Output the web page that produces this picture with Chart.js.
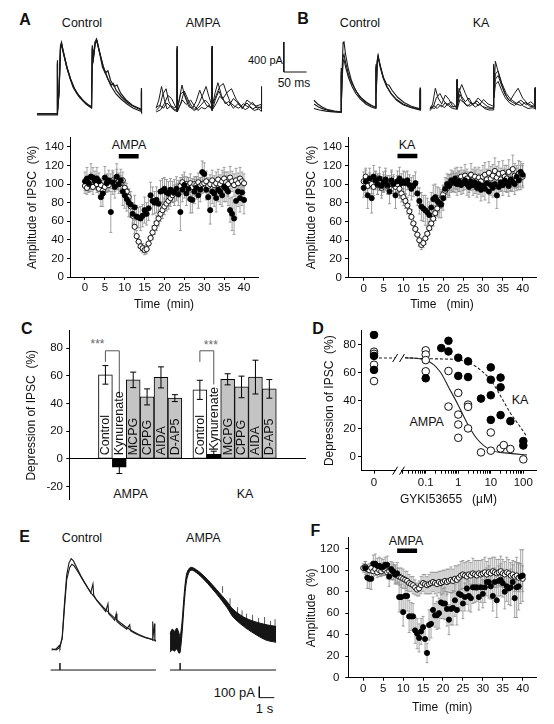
<!DOCTYPE html>
<html>
<head>
<meta charset="utf-8">
<script src="https://cdn.jsdelivr.net/npm/chart.js@4.4.1/dist/chart.umd.min.js"></script>
<style>
html, body { margin: 0; padding: 0; background: #fff; }
#fig { position: relative; width: 554px; height: 724px; overflow: hidden; font-family: "Liberation Sans", Arial, sans-serif; color: #111; }
#fig canvas { position: absolute; }
.t { position: absolute; transform: translate(-50%, -50%); white-space: nowrap; font-size: 12px; line-height: 1; }
.p { font-weight: bold; font-size: 16px; }
.r { transform: translate(-100%, -50%); }
.l { transform: translate(0, -50%); }
</style>
</head>
<body>
<div id="fig">
  <div class="t p" style="left:25px;top:20px">A</div>
  <div class="t" style="left:82px;top:22.5px;font-size:12.5px">Control</div>
  <div class="t" style="left:203px;top:22.5px;font-size:12.5px">AMPA</div>
  <div class="t l" style="left:248px;top:60px;font-size:11px">400 pA</div>
  <div class="t" style="left:294px;top:82.5px">50 ms</div>
  <div class="t p" style="left:303px;top:18.5px">B</div>
  <div class="t" style="left:360px;top:22.5px;font-size:12.5px">Control</div>
  <div class="t" style="left:481px;top:22.5px;font-size:12.5px">KA</div>
  <div class="t" style="left:129px;top:144.5px;font-size:12.5px">AMPA</div>
  <div class="t" style="left:407px;top:144.5px;font-size:12.5px">KA</div>
  <div class="t p" style="left:26.7px;top:328.7px">C</div>
  <div class="t" style="left:97.5px;top:344px;color:#666">***</div>
  <div class="t" style="left:210.8px;top:344.5px;color:#666">***</div>
  <div class="t" style="left:130.5px;top:494px;font-size:12.5px">AMPA</div>
  <div class="t" style="left:245px;top:494px;font-size:12.5px">KA</div>
  <div class="t p" style="left:318px;top:328.5px">D</div>
  <div class="t" style="left:426.7px;top:421.7px;font-size:12.5px">AMPA</div>
  <div class="t" style="left:520px;top:400px;font-size:12.5px">KA</div>
  <div class="t p" style="left:24.5px;top:536.7px">E</div>
  <div class="t" style="left:82px;top:538px;font-size:12.5px">Control</div>
  <div class="t" style="left:203.3px;top:538px;font-size:12.5px">AMPA</div>
  <div class="t r" style="left:255px;top:691.7px;font-size:13px">100 pA</div>
  <div class="t" style="left:264.5px;top:707.5px;font-size:13px">1 s</div>
  <div class="t p" style="left:315.3px;top:530.7px">F</div>
  <div class="t" style="left:406px;top:541px;font-size:12.5px">AMPA</div>
</div>
<script>
// ---- time course data (A, B, F) ----
const minutes = [0,0.5,1,1.5,2,2.5,3,3.5,4,4.5,5,5.5,6,6.5,7,7.5,8,8.5,9,9.5,
  10,10.5,11,11.5,12,12.5,13,13.5,14,14.5,15,15.5,16,16.5,17,17.5,18,18.5,19,19.5,
  20,20.5,21,21.5,22,22.5,23,23.5,24,24.5,25,25.5,26,26.5,27,27.5,28,28.5,29,29.5,
  30,30.5,31,31.5,32,32.5,33,33.5,34,34.5,35,35.5,36,36.5,37,37.5,38,38.5,39,39.5,40];
const timeTicks = [0, 5, 10, 15, 20, 25, 30, 35, 40];
const ipscTicks = [0, 20, 40, 60, 80, 100, 120, 140];
const ampTicks = [0, 20, 40, 60, 80, 100, 120];
const drugWindow = [8.5, 13.5];

const ampaOpen = [98,96,100,102,97,103,100,95,99,93,
  97,101,99,103,104,100,106,103,101,104,
  96,92,86,76,66,54,44,38,33,31,
  29,30,36,42,48,53,58,63,68,72,
  76,79,82,85,88,90,92,95,98,102,
  99,100,98,101,97,100,99,102,98,100,
  101,103,98,100,104,99,101,105,100,103,
  106,102,100,107,103,99,104,101,106,103,
  101];
const ampaOpenErr = [8,7,9,10,8,7,9,8,7,8,
  8,9,7,8,9,8,10,9,8,9,
  8,9,8,7,8,7,6,6,5,5,
  5,5,6,6,7,7,8,8,8,9,
  9,8,9,9,8,9,8,9,9,8,
  9,8,9,10,9,8,9,10,9,10,
  10,11,9,10,11,10,12,11,10,12,
  12,11,13,12,11,12,13,11,12,10,
  10];
const ampaFilled = [103,106,101,108,107,104,106,103,86,90,
  107,101,104,70,102,97,108,100,104,92,
  88,84,80,78,68,75,65,64,63,66,
  72,68,74,88,82,80,83,79,92,93,
  95,91,90,94,92,91,95,89,70,94,
  99,90,95,84,83,92,96,88,94,113,
  111,94,86,72,92,90,85,94,92,88,
  97,95,92,72,68,63,82,92,85,91,
  83];
const ampaFilledErr = [10,12,9,14,11,10,12,9,10,14,
  12,10,11,22,13,12,14,10,12,15,
  14,13,15,14,12,13,12,11,13,12,
  14,12,13,14,15,12,14,13,12,13,
  12,14,13,12,11,14,13,12,20,13,
  14,13,12,15,14,13,12,14,13,12,
  12,11,14,15,13,14,15,13,14,12,
  16,14,15,13,18,17,18,16,15,14,
  15];

const kaOpen = [103,108,98,104,100,97,105,99,102,96,
  101,104,98,100,103,99,97,100,95,90,
  86,82,77,71,65,58,52,46,40,35,
  37,42,47,53,58,63,69,74,79,84,
  89,93,96,99,101,103,101,106,103,108,
  104,109,106,102,110,105,108,104,107,103,
  108,110,105,112,106,109,114,107,111,105,
  112,108,106,113,104,116,109,105,111,107,
  108];
const kaOpenErr = [10,9,11,8,10,9,8,10,9,11,
  9,10,8,9,10,9,8,9,10,9,
  9,8,9,8,8,7,7,6,6,5,
  5,6,6,7,7,8,8,9,9,10,
  10,9,10,11,10,11,10,12,11,10,
  11,12,10,11,12,11,10,12,11,12,
  12,13,11,12,13,12,14,12,13,12,
  13,12,14,13,12,15,13,12,14,13,
  12];
const kaFilled = [96,103,88,106,85,108,104,100,106,98,
  102,105,99,92,104,100,88,103,106,101,
  103,101,104,99,95,98,101,90,82,76,
  74,72,70,67,75,84,86,82,80,78,
  85,95,100,98,104,102,106,100,103,99,
  101,104,100,97,103,99,102,96,100,94,
  98,95,101,92,99,96,100,88,97,102,
  99,104,101,98,105,102,100,108,104,113,
  110];
const kaFilledErr = [10,12,14,11,16,12,10,11,12,10,
  11,12,10,13,11,10,14,11,12,10,
  11,12,10,11,12,11,12,13,14,15,
  14,16,15,14,16,15,14,15,16,14,
  13,12,11,12,11,10,11,12,11,10,
  11,10,12,11,10,11,12,10,11,12,
  11,12,10,12,11,10,12,14,11,10,
  11,12,10,11,12,10,11,12,10,11,
  12];

const fOpen = [102,103,101,100,102,99,101,98,100,99,
  101,100,98,99,97,98,96,95,94,93,
  92,91,90,88,87,86,84,82,83,86,
  88,87,86,87,88,89,88,87,89,88,
  89,90,89,90,91,90,92,91,93,95,
  96,95,94,96,95,97,96,95,97,96,
  97,98,96,98,97,99,98,97,98,99,
  97,96,98,97,95,96,94,95,93,94,
  92];
const fOpenErr = [4,5,4,6,5,5,6,5,6,5,
  6,5,6,7,6,7,8,7,8,9,
  9,8,9,8,7,8,7,6,7,8,
  8,9,8,9,10,9,10,11,10,11,
  11,10,12,11,12,11,12,13,12,13,
  13,12,14,13,12,14,13,14,12,13,
  13,14,12,13,14,13,14,13,12,14,
  13,12,14,13,12,13,14,12,13,12,
  12];
const fFilled = [102,93,92,92,106,106,104,104,103,103,
  105,105,94,101,99,96,97,75,75,61,
  76,76,57,57,57,44,41,37,43,47,
  36,23,49,50,63,58,58,60,70,69,
  69,64,54,64,65,72,63,78,77,69,
  75,83,76,74,84,84,84,75,84,78,
  84,89,89,85,76,89,72,90,91,88,
  80,85,83,84,89,74,84,85,94,95];
const fFilledErr = [6,10,9,10,8,9,7,8,8,7,
  7,8,9,7,8,9,10,14,12,13,
  16,14,15,13,12,12,14,13,12,10,
  12,9,14,13,12,11,13,14,15,14,
  15,16,14,15,16,15,14,13,15,14,
  13,15,14,13,15,14,13,12,14,13,
  14,13,15,12,14,13,16,14,15,13,
  16,14,15,17,16,18,28,22,25,24];

// ---- bar chart data (C) ----
const drugs = ['Control', 'Kynurenate', 'MCPG', 'CPPG', 'AIDA', 'D-AP5'];
const agonists = ['AMPA', 'KA'];
const ampaDepression = [60.6, -6.0, 57.0, 44.7, 58.8, 43.8];
const ampaDepressionErr = [6.7, 4.6, 5.6, 5.8, 7.6, 2.5];
const kaDepression = [49.8, 3.2, 57.4, 51.9, 59.0, 50.5];
const kaDepressionErr = [6.9, 2.3, 4.0, 7.8, 12.2, 6.7];
const depressionTicks = [-20, 0, 20, 40, 60, 80];

// ---- dose response data (D), concentrations in uM ----
const kaDoseConc = [0,0,0,0.1,0.3,0.5,0.5,1,1,2,2,5,10,10,10,10,20,20,20,40,100,100];
const kaDoseVal = [87,72,62,56,77.6,82.8,75.2,70.7,57.7,68.1,56.9,41.5,63.8,55,43.9,26.3,56.5,49.6,29.7,25.4,11.2,8];
const ampaDoseConc = [0,0,0,0,0.1,0.1,0.1,0.1,0.5,0.5,1,1,1,1,2,2,2,5,10,10,20,25,40,100];
const ampaDoseVal = [75,73.5,65.7,54,76,73,69,61,61.2,35.8,45.6,30.1,23,13.5,37.2,35.6,20.2,3.1,17.3,4.3,5.9,8.3,5.5,-1.9];
const ampaFitConc = [0.023, 0.1, 0.28, 0.5, 1, 1.9, 3.7, 10, 39, 130];
const ampaFitVal = [70.7, 69, 60.5, 49.8, 36.8, 23.7, 13, 4.7, 2.4, 1.2];
const kaFitConc = [0.023, 0.1, 1, 1.9, 3.7, 10, 20, 39, 74, 130];
const kaFitVal = [70.7, 70, 69.3, 67.6, 64, 54.6, 43.4, 31.6, 22.5, 14.2];
const fitTop = 70.5;
const gykiTickConc = [0, 0.1, 1, 10, 100];
const gykiTickLabels = ['0', '0.1', '1', '10', '100'];
const depressionTicksD = [0, 20, 40, 60, 80];

// ---- current traces: [time, current] pairs (ms / s, pA) ----
const ctrlTracesA = [
  [[0,0],[44,0],[44.7,730],[45.3,30],[48.4,330],[51.7,930],[53.9,970],[57.2,866],[65.3,653],[72.6,493],[79.2,373],[88,280],[94.6,227],[107.8,147],[119.9,93],[121.7,930],[123.2,733],[127.6,973],[130.9,1013],[136.4,866],[145.2,653],[154,506],[162.8,386],[173.8,280],[184.8,213],[198,147],[211.2,93],[226.6,53],[228.8,53],[229.5,360],[230.1,40],[231,40]],
  [[0,10],[44,10],[44.7,700],[45.3,40],[48.4,300],[51.7,900],[54,950],[58,840],[66,630],[74,480],[82,360],[90,275],[100,200],[110,140],[120,100],[121.7,900],[124,760],[128,960],[132,990],[138,830],[146,640],[156,480],[164,400],[168,420],[174,330],[186,240],[200,160],[214,110],[228,70],[228.8,70],[229.5,330],[230.1,55],[231,55]],
  [[0,20],[44,20],[44.7,680],[45.3,50],[48.4,280],[51.7,880],[54,940],[58,820],[66,620],[74,470],[82,350],[92,260],[102,190],[112,140],[120,110],[121.7,880],[124,740],[128,950],[132,985],[138,820],[144,640],[150,560],[156,590],[162,460],[170,380],[176,400],[184,290],[196,200],[210,130],[228,80],[228.8,80],[229.5,300],[230.1,60],[231,60]]
];
const ampaTracesA = [
  [[0,90],[6,200],[12,380],[18,210],[24,80],[32,120],[40,100],[46,110],[46.3,920],[46.6,80],[52,240],[57,400],[63,250],[72,110],[80,90],[88,180],[96,330],[104,200],[112,120],[120,100],[123,100],[123.3,920],[123.6,110],[130,300],[136,430],[144,260],[152,150],[160,180],[170,90],[180,150],[190,100],[200,160],[212,80],[222,110],[231,90],[231.3,300],[231.6,90],[233,90]],
  [[0,60],[8,110],[15,280],[22,350],[28,180],[36,90],[46,60],[46.3,900],[46.6,50],[54,150],[62,320],[70,210],[78,120],[86,70],[94,150],[102,260],[110,380],[116,250],[123,120],[123.3,900],[123.6,130],[132,260],[140,380],[148,420],[156,280],[164,160],[172,120],[182,90],[192,150],[202,110],[212,170],[222,90],[231,110],[231.3,330],[231.6,70],[233,70]],
  [[0,40],[10,70],[18,150],[26,260],[34,220],[42,120],[46,80],[46.3,880],[46.6,70],[54,280],[60,310],[68,200],[76,100],[84,60],[92,90],[100,140],[108,200],[116,150],[123,60],[123.3,880],[123.6,60],[130,200],[138,320],[146,210],[156,300],[166,350],[176,210],[186,130],[196,70],[206,110],[216,60],[226,80],[231,50],[231.3,250],[231.6,50],[233,50]],
  [[0,100],[8,130],[16,90],[24,160],[32,110],[40,60],[46,50],[46.3,860],[46.6,40],[52,120],[58,200],[66,140],[76,200],[84,120],[92,60],[100,100],[108,80],[116,130],[123,80],[123.3,860],[123.6,70],[132,150],[140,250],[150,190],[160,120],[170,220],[180,160],[190,80],[200,200],[210,150],[220,120],[231,140],[231.3,380],[231.6,120],[233,120]]
];
const ctrlTracesB = [
  [[0,170],[8,120],[18,80],[30,45],[45,25],[59.4,15],[59.7,600],[60,100],[62,600],[64,940],[66,950],[69,800],[75,600],[82,440],[90,320],[100,220],[112,150],[125,100],[136,80],[136.3,650],[137,300],[139,700],[141,770],[145,650],[152,480],[160,360],[170,260],[182,180],[196,120],[212,80],[233,50],[233.3,340],[233.6,40],[235,40]],
  [[0,120],[10,80],[20,55],[34,30],[50,15],[59.4,10],[59.7,550],[60,80],[62,450],[64,690],[66,710],[70,600],[76,470],[84,350],[92,260],[102,185],[114,120],[126,80],[136,60],[136.3,620],[137,280],[139,680],[141,760],[146,620],[153,470],[160,380],[165,370],[172,300],[184,210],[198,140],[214,90],[233,55],[233.3,320],[233.6,50],[235,50]],
  [[0,60],[12,40],[26,25],[42,15],[59.4,10],[59.7,500],[60,70],[62,500],[64,750],[66,780],[70,660],[76,510],[84,390],[94,280],[104,200],[116,140],[126,105],[136,70],[136.3,600],[137,260],[139,660],[141,740],[146,600],[152,470],[160,350],[170,250],[182,170],[196,110],[214,70],[233,40],[233.3,300],[233.6,30],[235,30]]
];
const kaTracesB = [
  [[0,50],[6,120],[12,330],[18,200],[26,120],[34,240],[42,180],[50,90],[59.4,80],[59.7,450],[60,70],[64,330],[70,220],[78,150],[86,200],[94,110],[104,160],[114,90],[124,70],[134,60],[140,70],[140.3,650],[141,300],[144,690],[148,600],[156,420],[164,280],[172,180],[182,140],[190,120],[200,100],[210,140],[220,90],[231,80],[231.3,330],[231.6,70],[233,70]],
  [[0,30],[8,90],[14,200],[22,260],[30,170],[38,100],[46,150],[54,110],[59.4,60],[59.7,430],[60,60],[64,280],[70,380],[78,260],[86,150],[96,120],[106,200],[116,140],[126,90],[134,70],[140,60],[140.3,600],[141,250],[144,450],[150,500],[158,360],[166,240],[176,160],[186,260],[194,330],[204,200],[214,130],[224,100],[231,90],[231.3,320],[231.6,80],[233,80]],
  [[0,80],[10,60],[18,120],[26,80],[34,140],[42,90],[50,60],[59.4,50],[59.7,420],[60,50],[66,180],[74,140],[82,90],[90,130],[100,80],[110,120],[120,60],[130,40],[140,40],[140.3,560],[141,200],[144,380],[150,420],[158,300],[166,200],[176,130],[186,100],[196,150],[206,90],[216,60],[226,70],[231,60],[231.3,300],[231.6,50],[233,50]],
  [[0,60],[8,100],[16,60],[24,110],[32,70],[40,130],[48,80],[59.4,90],[59.7,440],[60,90],[66,250],[72,170],[80,110],[88,90],[98,140],[108,100],[118,180],[128,120],[140,90],[140.3,620],[141,280],[144,520],[150,560],[158,400],[168,260],[178,180],[190,130],[200,170],[212,110],[222,150],[231,100],[231.3,340],[231.6,90],[233,90]]
];
const ctrlTracesE = [
  [[0,0],[0.3,10],[0.5,40],[0.55,20],[0.7,120],[0.85,420],[1.0,680],[1.15,790],[1.3,830],[1.45,810],[1.7,740],[2.0,660],[2.3,590],[2.6,520],[2.75,600],[2.8,500],[3.0,450],[3.3,400],[3.6,350],[3.75,420],[3.8,330],[4.0,300],[4.2,270],[4.3,330],[4.35,260],[4.6,230],[5.0,190],[5.2,230],[5.25,175],[5.5,155],[5.9,130],[6.3,110],[6.7,95],[6.72,260],[6.75,90],[6.85,240],[6.88,85],[6.95,80]],
  [[0,10],[0.3,0],[0.5,20],[0.7,100],[0.85,380],[1.0,640],[1.2,750],[1.35,780],[1.5,765],[1.8,700],[2.1,630],[2.4,565],[2.7,505],[3.0,455],[3.4,395],[3.8,340],[4.2,290],[4.6,245],[5.0,205],[5.4,170],[5.8,140],[6.2,118],[6.6,100],[6.95,85]]
];
const ampaBandT = [0,0.15,0.3,0.45,0.6,0.67,0.8,0.95,1.1,1.3,1.5,2.0,2.5,3.1,3.8,4.2,4.9,5.6,6.4,7.07];
const ampaBandUpper = [150,190,170,200,150,120,260,520,690,745,750,705,640,550,440,370,300,260,230,215];
const ampaBandLower = [-20,0,-10,10,-30,-20,150,430,630,715,725,675,605,510,385,300,215,150,90,70];
const ampaSpikesE = [[3.5,520,580],[4.0,410,470],[4.5,330,390],[4.8,300,360],[5.1,280,330],[5.5,255,320],[5.9,240,290],[6.3,225,300],[6.7,215,265],[7.0,210,280]];

const FONT = '"Liberation Sans", Arial, sans-serif';
Chart.defaults.font.family = FONT;
Chart.defaults.font.size = 11.5;
Chart.defaults.color = '#111';

function place(id, box) {
  const c = document.createElement('canvas');
  c.id = id;
  c.width = box.w;
  c.height = box.h;
  c.style.left = box.x + 'px';
  c.style.top = box.y + 'px';
  c.style.width = box.w + 'px';
  c.style.height = box.h + 'px';
  document.getElementById('fig').appendChild(c);
  return c.getContext('2d');
}

const base = { responsive: false, animation: false, devicePixelRatio: 1, events: [] };
const noPlugins = { legend: { display: false }, tooltip: { enabled: false } };

// gray error bars under scatter points
const scatterErrors = {
  id: 'scatterErrors',
  beforeDatasetsDraw(chart) {
    const { ctx, scales: { y } } = chart;
    ctx.save();
    ctx.strokeStyle = '#8c8c8c';
    ctx.lineWidth = 0.8;
    chart.data.datasets.forEach((ds, i) => {
      if (!ds.errors) return;
      chart.getDatasetMeta(i).data.forEach((pt, j) => {
        const v = ds.data[j].y, e = ds.errors[j];
        const top = y.getPixelForValue(v + e), bot = y.getPixelForValue(v - e);
        ctx.beginPath();
        ctx.moveTo(pt.x, top); ctx.lineTo(pt.x, bot);
        ctx.moveTo(pt.x - 1.5, top); ctx.lineTo(pt.x + 1.5, top);
        ctx.moveTo(pt.x - 1.5, bot); ctx.lineTo(pt.x + 1.5, bot);
        ctx.stroke();
      });
    });
    ctx.restore();
  }
};

function axisStyle() {
  return {
    grid: { drawOnChartArea: false, tickLength: 3, color: '#000' },
    border: { color: '#000', width: 1 }
  };
}

function timeCourse(id, cfg) {
  const pts = (ts, vs) => vs.map((v, i) => ({ x: ts[i], y: v }));
  new Chart(place(id, cfg.box), {
    type: 'scatter',
    data: {
      datasets: [
        { type: 'line', data: [{ x: drugWindow[0], y: cfg.barY }, { x: drugWindow[1], y: cfg.barY }],
          borderColor: '#000', borderWidth: 4.5, pointRadius: 0, borderCapStyle: 'butt' },
        { data: pts(cfg.filledT, cfg.filled), errors: cfg.filledErr, pointRadius: 2.6,
          pointBackgroundColor: '#000', pointBorderColor: '#000', pointBorderWidth: 0.8 },
        { data: pts(minutes, cfg.open), errors: cfg.openErr, pointRadius: 2.6,
          pointBackgroundColor: '#fff', pointBorderColor: '#000', pointBorderWidth: 0.9 }
      ]
    },
    options: Object.assign({}, base, {
      layout: { padding: { top: cfg.pad.top, right: cfg.pad.right, left: 0, bottom: 0 } },
      plugins: noPlugins,
      scales: {
        x: Object.assign(axisStyle(), {
          type: 'linear', min: cfg.xmin, max: cfg.xmax,
          afterBuildTicks: s => { s.ticks = timeTicks.map(v => ({ value: v })); },
          afterFit: s => { s.height = cfg.xh; },
          ticks: { padding: 1, maxRotation: 0, autoSkip: false },
          title: { display: true, text: cfg.xTitle, font: { size: 12 }, padding: { top: 0, bottom: cfg.xtPad } }
        }),
        y: Object.assign(axisStyle(), {
          type: 'linear', min: 0, max: cfg.ymax,
          afterBuildTicks: s => { s.ticks = cfg.yTicks.map(v => ({ value: v })); },
          afterFit: s => { s.width = cfg.yw; },
          ticks: { padding: cfg.ytickPad },
          title: { display: true, text: cfg.yTitle, font: { size: 12 }, padding: { top: cfg.ytPad, bottom: 0 } }
        })
      }
    }),
    plugins: [scatterErrors]
  });
}

timeCourse('panelA', {
  box: { x: 0, y: 125, w: 277, h: 190 }, pad: { top: 12.7, right: 19 }, yw: 70, xh: 38,
  xmin: -3.77, xmax: 43.52, ymax: 150, yTicks: ipscTicks, barY: 130,
  open: ampaOpen, openErr: ampaOpenErr, filled: ampaFilled, filledErr: ampaFilledErr, filledT: minutes,
  xTitle: 'Time  (min)', yTitle: 'Amplitude of IPSC  (%)', ytPad: 25.8, xtPad: 2.8, ytickPad: 3
});
timeCourse('panelB', {
  box: { x: 277, y: 125, w: 277, h: 190 }, pad: { top: 12.3, right: 18 }, yw: 71, xh: 37.3,
  xmin: -3.95, xmax: 43.35, ymax: 150, yTicks: ipscTicks, barY: 130,
  open: kaOpen, openErr: kaOpenErr, filled: kaFilled, filledErr: kaFilledErr, filledT: minutes,
  xTitle: 'Time   (min)', yTitle: 'Amplitude of IPSC  (%)', ytPad: 27.8, xtPad: 2.8, ytickPad: 3
});
timeCourse('panelF', {
  box: { x: 277, y: 525, w: 277, h: 199 }, pad: { top: 12.7, right: 18 }, yw: 71.3, xh: 46.3,
  xmin: -3.76, xmax: 43.34, ymax: 130, yTicks: ampTicks, barY: 118,
  open: fOpen, openErr: fOpenErr, filled: fFilled, filledErr: fFilledErr, filledT: minutes.slice(1),
  xTitle: 'Time  (min)', yTitle: 'Amplitude  (%)', ytPad: 27.5, xtPad: 9.1, ytickPad: 6
});

// ---- C: bar chart ----
(function () {
  const vals = ampaDepression.concat(kaDepression);
  const errs = ampaDepressionErr.concat(kaDepressionErr);
  const pos = drugs.map((d, i) => i + 1).concat(drugs.map((d, i) => i + 7.8));
  const fill = name => name === 'Control' ? '#fff' : name === 'Kynurenate' ? '#000' : '#c4c4c4';
  const colors = drugs.map(fill).concat(drugs.map(fill));
  const names = drugs.concat(drugs);
  const brackets = [[0, 1, 78, 70, 47], [6, 7, 78, 70, 53.7]];

  const barDecor = {
    id: 'barDecor',
    afterDatasetsDraw(chart) {
      const { ctx, scales: { y } } = chart;
      const meta = chart.getDatasetMeta(0);
      ctx.save();
      ctx.strokeStyle = '#000';
      ctx.lineWidth = 1;
      meta.data.forEach((bar, i) => {
        const t = y.getPixelForValue(vals[i] + errs[i]), b = y.getPixelForValue(vals[i] - errs[i]);
        ctx.beginPath();
        ctx.moveTo(bar.x, t); ctx.lineTo(bar.x, b);
        ctx.moveTo(bar.x - 3, t); ctx.lineTo(bar.x + 3, t);
        ctx.moveTo(bar.x - 3, b); ctx.lineTo(bar.x + 3, b);
        ctx.stroke();
      });
      ctx.strokeStyle = '#555';
      brackets.forEach(([a, b, top, la, rb]) => {
        const xa = meta.data[a].x, xb = meta.data[b].x;
        ctx.beginPath();
        ctx.moveTo(xa, y.getPixelForValue(la));
        ctx.lineTo(xa, y.getPixelForValue(top));
        ctx.lineTo(xb, y.getPixelForValue(top));
        ctx.lineTo(xb, y.getPixelForValue(rb));
        ctx.stroke();
      });
      ctx.fillStyle = '#111';
      ctx.font = '12.5px ' + FONT;
      ctx.textAlign = 'left';
      ctx.textBaseline = 'middle';
      meta.data.forEach((bar, i) => {
        // labels read upward, starting just above the zero line (or above the black bar)
        const floor = names[i] === 'Kynurenate' ? Math.max(vals[i], 0) : 0;
        const start = y.getPixelForValue(floor) - 3.5;
        ctx.save();
        ctx.translate(bar.x + 0.5, start);
        ctx.rotate(-Math.PI / 2);
        ctx.fillText(names[i], 0, 0);
        ctx.restore();
      });
      ctx.restore();
    }
  };

  new Chart(place('panelC', { x: 0, y: 320, w: 320, h: 190 }), {
    type: 'bar',
    data: {
      datasets: [{
        data: vals.map((v, i) => ({ x: pos[i], y: v })),
        backgroundColor: colors, borderColor: '#000', borderWidth: 1, borderSkipped: false,
        categoryPercentage: 1, barPercentage: 1
      }]
    },
    options: Object.assign({}, base, {
      layout: { padding: { top: 10.7, right: 14, bottom: 3.3, left: 0 } },
      plugins: noPlugins,
      scales: {
        x: { type: 'linear', display: false, min: -0.18, max: 14.02,
          afterBuildTicks: s => { s.ticks = pos.map(v => ({ value: v })); } },
        y: {
          type: 'linear', min: -29.6, max: 92.5,
          afterBuildTicks: s => { s.ticks = depressionTicks.map(v => ({ value: v })); },
          afterFit: s => { s.width = 69.3; },
          grid: { drawOnChartArea: true, tickLength: 3, tickColor: '#000',
            color: c => (c.tick && c.tick.value === 0) ? '#000' : 'rgba(0,0,0,0)' },
          border: { color: '#000', width: 1 },
          ticks: { padding: 3.3 },
          title: { display: true, text: 'Depression of IPSC  (%)', font: { size: 12 }, padding: { top: 24.8, bottom: 0 } }
        }
      }
    }),
    plugins: [barDecor]
  });
})();

// ---- D: dose response ----
(function () {
  const zeroPos = -2.59, breakFrom = -1.94, breakTo = -1.73;
  const gx = c => c > 0 ? Math.log10(c) : zeroPos;
  const pts = (cs, vs) => cs.map((c, i) => ({ x: gx(c), y: vs[i] }));
  const majors = gykiTickConc.map(gx);
  const minors = [];
  [-2, -1, 0, 1].forEach(n => { for (let k = 2; k <= 9; k++) { const v = n + Math.log10(k); if (v > breakTo) minors.push(v); } });

  const breaks = {
    id: 'breaks',
    afterDraw(chart) {
      const { ctx, chartArea: a, scales: { x, y } } = chart;
      const x1 = x.getPixelForValue(breakFrom), x2 = x.getPixelForValue(breakTo);
      ctx.save();
      ctx.fillStyle = '#fff';
      ctx.fillRect(x1 + 1, a.bottom - 2, x2 - x1 - 2, 4);
      ctx.strokeStyle = '#000';
      ctx.lineWidth = 1;
      [a.bottom, y.getPixelForValue(fitTop)].forEach(py => {
        [x1, x2].forEach(px => {
          ctx.beginPath();
          ctx.moveTo(px - 2.5, py + 4);
          ctx.lineTo(px + 2.5, py - 4);
          ctx.stroke();
        });
      });
      ctx.restore();
    }
  };

  new Chart(place('panelD', { x: 290, y: 320, w: 264, h: 190 }), {
    type: 'scatter',
    data: {
      datasets: [
        { data: pts(kaDoseConc, kaDoseVal), pointRadius: 3.8, pointBackgroundColor: '#000', pointBorderColor: '#000', pointBorderWidth: 1 },
        { data: pts(ampaDoseConc, ampaDoseVal), pointRadius: 3.8, pointBackgroundColor: '#fff', pointBorderColor: '#111', pointBorderWidth: 1 },
        { type: 'line', data: [{ x: zeroPos, y: fitTop }, { x: breakFrom, y: fitTop }], borderColor: '#222', borderWidth: 1, borderDash: [3, 2], pointRadius: 0 },
        { type: 'line', data: pts(ampaFitConc, ampaFitVal), borderColor: '#222', borderWidth: 1.1, pointRadius: 0, cubicInterpolationMode: 'monotone' },
        { type: 'line', data: pts(kaFitConc, kaFitVal), borderColor: '#222', borderWidth: 1.1, borderDash: [3, 2], pointRadius: 0, cubicInterpolationMode: 'monotone' }
      ]
    },
    options: Object.assign({}, base, {
      layout: { padding: { top: 10.7, right: 18, left: 0, bottom: 0 } },
      plugins: noPlugins,
      scales: {
        x: Object.assign(axisStyle(), {
          type: 'linear', min: -2.99, max: 2.39,
          afterBuildTicks: s => { s.ticks = majors.concat(minors).map(v => ({ value: v })); },
          afterFit: s => { s.height = 39.3; },
          ticks: { padding: 2.5, maxRotation: 0, autoSkip: false,
            callback: v => { const i = majors.indexOf(v); return i >= 0 ? gykiTickLabels[i] : ''; } },
          title: { display: true, text: 'GYKI53655   (\u00b5M)', font: { size: 12 }, padding: { top: 0, bottom: 2.8 } }
        }),
        y: Object.assign(axisStyle(), {
          type: 'linear', min: -10, max: 90,
          afterBuildTicks: s => { s.ticks = depressionTicksD.map(v => ({ value: v })); },
          afterFit: s => { s.width = 71; },
          ticks: { padding: 2 },
          title: { display: true, text: 'Depression of IPSC  (%)', font: { size: 12 }, padding: { top: 32.8, bottom: 0 } }
        })
      }
    }),
    plugins: [breaks]
  });
})();

// ---- raw current traces (A, B, E) ----
function traceChart(id, box, cal, datasets) {
  new Chart(place(id, box), {
    type: 'line',
    data: { datasets },
    options: Object.assign({}, base, {
      layout: { padding: 0 },
      plugins: noPlugins,
      elements: { point: { radius: 0 }, line: { tension: 0 } },
      scales: {
        x: { type: 'linear', display: false,
          min: (box.x - cal.px0) * cal.xPerPx, max: (box.x + box.w - cal.px0) * cal.xPerPx },
        y: { type: 'linear', display: false,
          min: (cal.py0 - (box.y + box.h)) * cal.yPerPx, max: (cal.py0 - box.y) * cal.yPerPx }
      }
    })
  });
}
const traceSet = (traces, offset, width) => traces.map(tr => ({
  data: tr.map(([t, v]) => ({ x: t + offset, y: v })),
  borderColor: '#1a1a1a', borderWidth: width, pointRadius: 0, fill: false, clip: false
}));
const polyline = (pairs, width) => ({
  data: pairs.map(([t, v]) => ({ x: t, y: v })),
  borderColor: '#111', borderWidth: width, pointRadius: 0, fill: false, clip: false
});

// A: 400 pA / 50 ms scale bar
traceChart('tracesA', { x: 30, y: 28, w: 290, h: 97 }, { px0: 37, xPerPx: 2.2, py0: 115, yPerPx: 13.33 },
  traceSet(ctrlTracesA, 0, 1.2).concat(traceSet(ampaTracesA, 262, 1))
    .concat([polyline([[543, 973], [543, 573], [593, 573]], 1)]));

traceChart('tracesB', { x: 305, y: 28, w: 249, h: 97 }, { px0: 314, xPerPx: 2.2, py0: 113, yPerPx: 13.33 },
  traceSet(ctrlTracesB, 0, 1.1).concat(traceSet(kaTracesB, 255, 1)));

// E: stimulus markers, noisy AMPA band, 100 pA / 1 s scale bar
(function () {
  const offset = 7.89;
  const bandUpper = { data: ampaBandT.map((t, i) => ({ x: t + offset, y: ampaBandUpper[i] })),
    borderColor: '#111', borderWidth: 1, pointRadius: 0, fill: false, tension: 0.3 };
  const bandLower = { data: ampaBandT.map((t, i) => ({ x: t + offset, y: ampaBandLower[i] })),
    borderColor: '#111', borderWidth: 1, pointRadius: 0, fill: '-1', backgroundColor: '#151515', tension: 0.3 };
  const spikes = { data: [], borderColor: '#111', borderWidth: 0.7, pointRadius: 0, spanGaps: false, fill: false };
  ampaSpikesE.forEach(([t, lo, hi]) => {
    spikes.data.push({ x: t + offset, y: lo }, { x: t + offset, y: hi }, { x: t + offset, y: null });
  });
  const datasets = traceSet(ctrlTracesE, 0, 1.1).concat([
    bandUpper, bandLower, spikes,
    polyline([[-0.07, -182], [0.55, -182], [0.55, -118], [0.55, -182], [6.95, -182]], 1),
    polyline([[offset, -182], [offset + 0.67, -182], [offset + 0.67, -118], [offset + 0.67, -182], [offset + 7.07, -182]], 1),
    polyline([[13.84, -333], [13.84, -433], [14.84, -433]], 1)
  ]);
  traceChart('tracesE', { x: 40, y: 545, w: 245, h: 165 }, { px0: 51.7, xPerPx: 1 / 15, py0: 650, yPerPx: 9.09 }, datasets);
})();
</script>
</body>
</html>
